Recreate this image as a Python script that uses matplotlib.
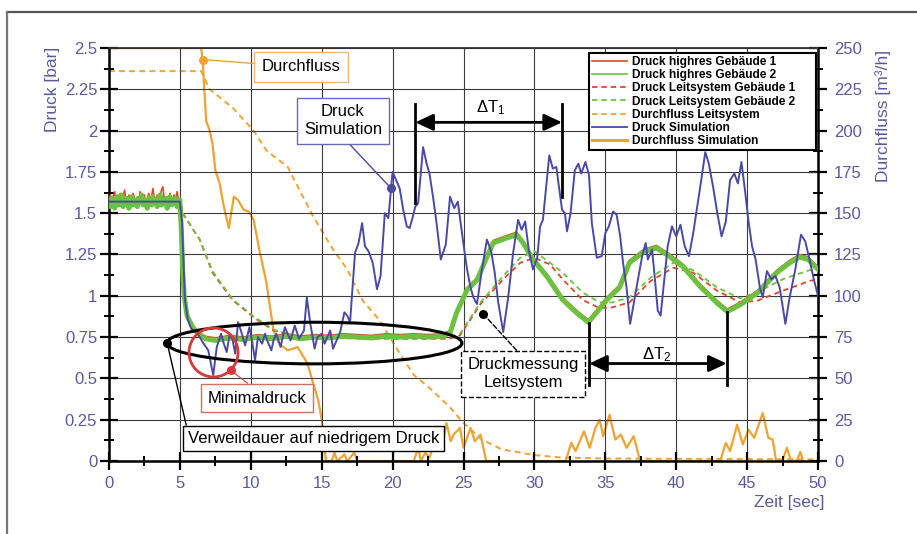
import matplotlib
matplotlib.use('Agg')
import matplotlib.pyplot as plt
import numpy as np
from matplotlib.patches import Ellipse
from matplotlib.lines import Line2D

plt.rcParams['font.family'] = ['Liberation Sans', 'DejaVu Sans']
plt.rcParams['mathtext.fontset'] = 'custom'
plt.rcParams['mathtext.rm'] = 'Liberation Sans'
plt.rcParams['mathtext.it'] = 'Liberation Sans:italic'

# ---------------- data ----------------
x_ticks = [0, 5, 10, 15, 20, 25, 30, 35, 40, 45, 50]
x_ticklabels = ['0', '5', '10', '15', '20', '25', '30', '35', '40', '45', '50']
p_ticks = [0, 0.25, 0.5, 0.75, 1, 1.25, 1.5, 1.75, 2, 2.25, 2.5]
p_ticklabels = ['0', '0.25', '0.5', '0.75', '1', '1.25', '1.5', '1.75', '2', '2.25', '2.5']
q_ticks = [0, 25, 50, 75, 100, 125, 150, 175, 200, 225, 250]
q_ticklabels = ['0', '25', '50', '75', '100', '125', '150', '175', '200', '225', '250']

# high-resolution pressure, first 5 s (0.1 s steps)
hr0_t = [round(0.1 * i, 1) for i in range(51)]
red_hr0_p = [1.58, 1.61, 1.55, 1.60, 1.63, 1.57, 1.54, 1.59, 1.62, 1.56, 1.60, 1.64, 1.57, 1.55, 1.61,
             1.58, 1.56, 1.62, 1.59, 1.54, 1.60, 1.57, 1.63, 1.56, 1.59, 1.61, 1.55, 1.58, 1.62, 1.57,
             1.60, 1.65, 1.58, 1.55, 1.61, 1.57, 1.59, 1.64, 1.66, 1.58, 1.55, 1.60, 1.57, 1.62, 1.56,
             1.59, 1.61, 1.57, 1.63, 1.58, 1.57]
green_hr0_p = [1.56, 1.54, 1.59, 1.57, 1.53, 1.58, 1.60, 1.55, 1.57, 1.61, 1.54, 1.58, 1.56, 1.59, 1.53,
               1.57, 1.60, 1.55, 1.58, 1.56, 1.54, 1.59, 1.57, 1.61, 1.55, 1.58, 1.56, 1.53, 1.59, 1.57,
               1.55, 1.60, 1.56, 1.58, 1.54, 1.57, 1.61, 1.55, 1.58, 1.56, 1.59, 1.53, 1.57, 1.60, 1.55,
               1.58, 1.56, 1.59, 1.54, 1.57, 1.58]

# high-resolution pressure after 5 s
hr_t = [5.0, 5.1, 5.2, 5.3, 5.5, 5.9, 6.3, 6.8, 7.5, 8.5, 9.5, 10.5, 11.5, 12.5, 13.5, 14.5, 15.5,
        16.5, 17.5, 18.5, 19.5, 20.5, 21.5, 22.5, 23.5, 24.05, 24.5, 25.25, 25.95, 26.65, 27.1,
        28.05, 28.75, 29.2, 29.9, 30.9, 32.0, 33.0, 33.8, 34.4, 35.1, 36.0, 36.7, 37.7, 38.6,
        39.5, 40.5, 41.7, 42.9, 43.6, 44.5, 45.7, 47.1, 48.0, 48.7, 49.3, 50.0]
green_hr_p = [1.57, 1.40, 1.15, 1.00, 0.88, 0.81, 0.77, 0.74, 0.73, 0.745, 0.735, 0.75, 0.74, 0.755,
              0.74, 0.75, 0.745, 0.755, 0.75, 0.745, 0.755, 0.75, 0.755, 0.75, 0.755, 0.775, 0.895,
              1.035, 1.095, 1.235, 1.32, 1.35, 1.37, 1.32, 1.22, 1.115, 0.975, 0.895, 0.84, 0.90,
              0.975, 1.05, 1.20, 1.265, 1.29, 1.24, 1.175, 1.055, 0.955, 0.905, 0.945, 1.015, 1.14,
              1.20, 1.235, 1.22, 1.16]
red_hr_p = [1.58, 1.41, 1.16, 1.01, 0.89, 0.82, 0.78, 0.755, 0.745, 0.76, 0.75, 0.765, 0.755, 0.77,
            0.755, 0.765, 0.76, 0.77, 0.765, 0.76, 0.77, 0.765, 0.77, 0.765, 0.77, 0.79, 0.91,
            1.05, 1.11, 1.25, 1.335, 1.365, 1.385, 1.335, 1.235, 1.13, 0.99, 0.91, 0.855, 0.915,
            0.99, 1.065, 1.215, 1.28, 1.305, 1.255, 1.19, 1.07, 0.97, 0.92, 0.96, 1.03, 1.155,
            1.215, 1.25, 1.235, 1.175]

# control-system pressure (dashed)
ls_t = [0.0, 5.0, 5.2, 6.4, 7.3, 8.7, 10.2, 11.6, 13.0, 15.0, 20.0, 24.0, 24.75, 26.2, 27.8,
        29.0, 30.0, 31.1, 32.0, 33.4, 34.6, 35.5, 36.7, 38.2, 39.8, 41.2, 42.9, 44.5, 45.7,
        47.5, 49.4, 50.0]
red_ls_p = [1.58, 1.58, 1.50, 1.34, 1.14, 0.975, 0.87, 0.79, 0.76, 0.745, 0.74, 0.74, 0.76, 0.95,
            1.10, 1.20, 1.23, 1.19, 1.10, 0.975, 0.925, 0.93, 0.96, 1.09, 1.17, 1.14, 1.03,
            0.96, 0.97, 1.03, 1.09, 1.10]
green_ls_p = [1.58, 1.58, 1.50, 1.34, 1.15, 0.98, 0.875, 0.795, 0.76, 0.75, 0.75, 0.75, 0.77,
              0.96, 1.12, 1.23, 1.27, 1.20, 1.14, 1.02, 0.96, 0.96, 0.99, 1.11, 1.20, 1.155,
              1.05, 0.985, 1.02, 1.10, 1.155, 1.16]

# simulated pressure (blue)
sim_t = [0.0, 5.0, 5.15, 5.35, 5.55, 5.8, 6.2, 6.6, 7.0, 7.35, 7.6, 7.9, 8.1, 8.3, 8.5, 8.7, 8.9,
         9.1, 9.3, 9.6, 9.9, 10.1, 10.3, 10.5, 10.8, 11.0, 11.2, 11.45, 11.6, 11.8, 12.1, 12.4,
         12.6, 12.8, 13.1, 13.4, 13.75, 13.95, 14.2, 14.5, 14.7, 15.0, 15.2, 15.4, 15.6, 15.8,
         16.1, 16.3, 16.6, 16.8, 17.0, 17.35, 17.6, 17.85, 18.05, 18.3, 18.6, 18.9, 19.15, 19.45,
         19.7, 20.0, 20.25, 20.5, 20.75, 21.0, 21.2, 21.4, 21.6, 21.8, 22.15, 22.4, 22.6, 22.85,
         23.1, 23.4, 23.75, 24.05, 24.35, 24.6, 24.85, 25.05, 25.25, 25.5, 25.7, 25.95, 26.3,
         26.65, 26.95, 27.2, 27.45, 27.8, 28.15, 28.5, 28.85, 29.1, 29.35, 29.6, 29.9, 30.2,
         30.4, 30.6, 30.9, 31.05, 31.3, 31.55, 31.7, 31.95, 32.15, 32.3, 32.55, 32.85, 33.1,
         33.3, 33.6, 33.85, 34.05, 34.4, 34.75, 35.0, 35.25, 35.55, 35.8, 36.05, 36.25, 36.5,
         36.75, 37.0, 37.2, 37.6, 37.85, 38.0, 38.3, 38.5, 38.7, 38.9, 39.1, 39.4, 39.7, 40.0,
         40.3, 40.6, 40.9, 41.2, 41.5, 41.8, 42.05, 42.3, 42.6, 42.9, 43.2, 43.5, 43.8, 44.1,
         44.35, 44.6, 44.85, 45.1, 45.35, 45.6, 45.9, 46.1, 46.4, 46.7, 47.0, 47.3, 47.7, 48.0,
         48.4, 48.8, 49.1, 49.4, 49.7, 50.0]
sim_p = [1.57, 1.57, 1.45, 0.98, 0.86, 0.80, 0.78, 0.72, 0.67, 0.52, 0.69, 0.77, 0.71, 0.66,
         0.76, 0.74, 0.65, 0.84, 0.79, 0.70, 0.81, 0.72, 0.61, 0.75, 0.71, 0.77, 0.72, 0.67, 0.73,
         0.77, 0.69, 0.81, 0.77, 0.73, 0.82, 0.74, 0.79, 0.99, 0.83, 0.68, 0.75, 0.77, 0.71, 0.75,
         0.79, 0.68, 0.74, 0.78, 0.90, 0.88, 0.84, 1.26, 1.32, 1.44, 1.30, 1.27, 1.20, 1.04, 1.12,
         1.50, 1.47, 1.75, 1.70, 1.65, 1.52, 1.42, 1.41, 1.47, 1.54, 1.56, 1.90, 1.80, 1.74, 1.60,
         1.44, 1.22, 1.31, 1.60, 1.53, 1.57, 1.41, 1.28, 1.16, 1.05, 0.99, 0.95, 1.16, 1.34, 1.27,
         1.14, 0.96, 0.78, 0.99, 1.26, 1.46, 1.40, 1.45, 1.28, 1.16, 1.23, 1.42, 1.46, 1.72, 1.85,
         1.77, 1.78, 1.68, 1.52, 1.50, 1.39, 1.50, 1.76, 1.80, 1.74, 1.81, 1.73, 1.44, 1.23, 1.24,
         1.38, 1.42, 1.51, 1.49, 1.36, 1.20, 1.05, 0.83, 0.95, 1.05, 1.24, 1.32, 1.22, 1.28, 1.10,
         0.91, 0.88, 1.05, 1.30, 1.42, 1.36, 1.43, 1.30, 1.24, 1.38, 1.55, 1.72, 1.87, 1.80, 1.66,
         1.50, 1.36, 1.45, 1.70, 1.74, 1.68, 1.81, 1.64, 1.45, 1.30, 1.22, 1.05, 0.99, 1.15, 1.10,
         1.12, 1.05, 0.83, 0.99, 1.16, 1.37, 1.33, 1.22, 1.10, 1.00]

# control-system flow (dashed orange, right axis)
flow_ls_t = [0.0, 6.5, 7.1, 8.7, 10.2, 11.1, 12.6, 14.4, 15.8, 16.8, 17.9, 19.1, 20.3, 21.5,
             22.5, 24.0, 25.0, 26.3, 27.7, 30.0, 32.0, 35.0, 50.0]
flow_ls_q = [236, 236, 225, 214, 200, 188, 178, 148, 128, 116, 97, 85, 68, 52, 45, 33, 23, 13,
             7, 3.6, 2, 1.5, 1]

# simulated flow (solid orange, right axis)
flow_sim_t = [0.0, 6.5, 6.6, 6.85, 7.1, 7.3, 7.5, 7.8, 8.1, 8.45, 8.8, 9.1, 9.5, 9.85, 10.2, 10.6,
              11.1, 11.6, 12.0, 12.6, 13.3, 14.0, 14.4, 14.75, 15.0, 15.3, 15.7, 15.9, 16.1, 16.6,
              16.8, 17.3, 17.5, 21.5, 21.8, 22.0, 22.3, 22.6, 23.0, 23.4, 23.8, 24.1, 24.3, 24.75,
              25.0, 25.5, 25.8, 26.2, 26.6, 32.2, 32.6, 32.9, 33.5, 33.9, 34.3, 34.6, 34.85, 35.3,
              35.7, 36.1, 36.5, 37.0, 37.45, 43.1, 43.5, 43.8, 44.3, 44.7, 45.1, 45.5, 46.1, 46.5,
              46.8, 47.05, 47.5, 47.8, 48.1, 48.5, 48.75, 48.95]
flow_sim_q = [250, 250, 243, 206, 200, 192, 176, 168, 154, 141, 160, 158, 152, 151, 146, 128,
              108, 79, 71, 67, 69, 59, 47, 37, 25, 0, 0, 5, 0, 4, 0, 5, 0, 0, 8, 0, 5, 2, 12, 6,
              23, 12, 16, 20, 8, 20, 12, 16, 0, 0, 11, 6, 18, 8, 20, 25, 15, 28, 13, 16, 8, 15,
              0, 0, 11, 6, 22, 10, 19, 14, 29, 14, 13, 0, 0, 8, 0, 0, 5.5, 0]

legend_labels = ['Druck highres Gebäude 1', 'Druck highres Gebäude 2',
                 'Druck Leitsystem Gebäude 1', 'Druck Leitsystem Gebäude 2',
                 'Durchfluss Leitsystem', 'Druck Simulation', 'Durchfluss Simulation']

# ---------------- style ----------------
C_RED = '#e2452a'
C_GREEN = '#6cc23e'
C_BLUE = '#4a4aa6'
C_ORANGE = '#f0a232'
C_LAB = '#5a5aa2'
DASH = (0, (3, 2.2))

fig = plt.figure(figsize=(9.17, 5.34), dpi=100)
ax = fig.add_axes([109 / 917, 1 - 461 / 534, (818 - 109) / 917, (461 - 48) / 534])
ax2 = ax.twinx()
ax.set_zorder(ax2.get_zorder() + 1)
ax.patch.set_visible(False)

# flows (right axis)
ax2.plot(flow_ls_t, flow_ls_q, color=C_ORANGE, lw=1.4, ls=DASH)
ax2.plot(flow_sim_t, flow_sim_q, color=C_ORANGE, lw=1.6)

# pressures (left axis)
ax.plot(ls_t, red_ls_p, color=C_RED, lw=1.3, ls=DASH, zorder=3)
ax.plot(ls_t, green_ls_p, color=C_GREEN, lw=1.3, ls=DASH, zorder=3)
ax.plot(hr0_t + hr_t, red_hr0_p + red_hr_p, color=C_RED, lw=1.2, zorder=4)
ax.plot(hr0_t + hr_t, green_hr0_p + green_hr_p, color=C_GREEN, lw=3.6, zorder=5,
        solid_joinstyle='round')
ax.plot(sim_t, sim_p, color=C_BLUE, lw=1.4, zorder=6)

ax.set_xlim(0, 50)
ax.set_ylim(0, 2.5)
ax2.set_ylim(0, 250)

ax.set_xticks(x_ticks, x_ticklabels)
ax.set_xticks(np.arange(2.5, 50, 5), minor=True)
ax.set_yticks(p_ticks, p_ticklabels)
ax.set_yticks(np.arange(0.125, 2.5, 0.25), minor=True)
ax2.set_yticks(q_ticks, q_ticklabels)
ax2.set_yticks(np.arange(12.5, 250, 25), minor=True)

for a in (ax, ax2):
    a.tick_params(which='major', direction='inout', length=13, width=1.6, color='black',
                  labelcolor=C_LAB, labelsize=12)
    a.tick_params(which='minor', direction='inout', length=7, width=1.4, color='black')
ax.tick_params(axis='y', pad=2)
ax.tick_params(axis='x', pad=4)
ax2.tick_params(axis='y', pad=5)

ax.grid(True, which='major', color='#3c3c3c', lw=0.8, zorder=0)
ax.set_axisbelow(True)
for s in ('left', 'bottom', 'right'):
    ax.spines[s].set_color('black')
    ax.spines[s].set_linewidth(1.8)
ax.spines['top'].set_color('#333333')
ax.spines['top'].set_linewidth(1.3)
for s in ax2.spines.values():
    s.set_visible(False)

fig.text(52 / 917, 1 - 47 / 534, 'Druck [bar]', rotation=90, ha='center', va='top',
         color=C_LAB, fontsize=12.5)
fig.text(883 / 917, 1 - 50 / 534, 'Durchfluss [m³/h]', rotation=90, ha='center', va='top',
         color=C_LAB, fontsize=12.5)
fig.text(825 / 917, 1 - 502 / 534, 'Zeit [sec]', ha='right', va='center',
         color=C_LAB, fontsize=12.5)

# legend
handles = [Line2D([], [], color=C_RED, lw=1.2),
           Line2D([], [], color=C_GREEN, lw=1.2),
           Line2D([], [], color=C_RED, lw=1.3, ls=DASH),
           Line2D([], [], color=C_GREEN, lw=1.3, ls=DASH),
           Line2D([], [], color=C_ORANGE, lw=1.3, ls=DASH),
           Line2D([], [], color=C_BLUE, lw=1.3),
           Line2D([], [], color=C_ORANGE, lw=2.2)]
leg = ax.legend(handles, legend_labels, loc='upper left',
                bbox_to_anchor=((589 - 109) / 709, 0.70, (816 - 589) / 709, (461 - 53) / 413 - 0.70),
                mode='expand', borderaxespad=0, fancybox=False, framealpha=1,
                edgecolor='black', handlelength=2.9, handletextpad=0.45, labelspacing=0.1,
                borderpad=0.25, prop={'family': 'Liberation Sans', 'weight': 'bold', 'size': 8.6})
leg.get_frame().set_linewidth(1.5)
leg.set_zorder(20)

# ---------------- annotations ----------------
FS = 12
# Durchfluss
ax2.plot([6.6], [243], 'o', color=C_ORANGE, ms=5.5, zorder=10)
ax.annotate('Durchfluss', xy=(6.6, 243), xycoords=ax2.transData, xytext=(13.55, 2.385),
            textcoords='data', ha='center', va='center', fontsize=FS, zorder=12,
            bbox=dict(boxstyle='square,pad=0.45', fc='white', ec='#f0b878', lw=1),
            arrowprops=dict(arrowstyle='-', color=C_ORANGE, lw=1, shrinkA=0, shrinkB=0))
# Druck Simulation
ax.plot([19.9], [1.65], 'o', color=C_BLUE, ms=5.5, zorder=10)
ax.annotate('Druck\nSimulation', xy=(19.9, 1.65), xytext=(16.5, 2.06), ha='center',
            va='center', fontsize=FS, zorder=12, linespacing=1.25,
            bbox=dict(boxstyle='square,pad=0.4', fc='white', ec='#6a6ab8', lw=1),
            arrowprops=dict(arrowstyle='-', color=C_BLUE, lw=1, shrinkA=0, shrinkB=0,
                            relpos=(0.5, 0)))
# delta T1
ax.plot([21.6, 21.6], [1.56, 2.16], color='black', lw=2, zorder=11)
ax.plot([31.95, 31.95], [1.60, 2.16], color='black', lw=2, zorder=11)
ax.annotate('', xy=(31.95, 2.05), xytext=(21.6, 2.05), zorder=11,
            arrowprops=dict(arrowstyle='<|-|>,head_length=0.9,head_width=0.42', color='black',
                            lw=2, shrinkA=0, shrinkB=0, mutation_scale=12))
ax.text(26.9, 2.14, 'ΔT$_1$', ha='center', va='center', fontsize=FS, zorder=12)
# delta T2
ax.plot([33.86, 33.86], [0.46, 0.835], color='black', lw=2, zorder=11)
ax.plot([43.56, 43.56], [0.46, 0.90], color='black', lw=2, zorder=11)
ax.annotate('', xy=(43.56, 0.59), xytext=(33.86, 0.59), zorder=11,
            arrowprops=dict(arrowstyle='<|-|>,head_length=0.9,head_width=0.42', color='black',
                            lw=2, shrinkA=0, shrinkB=0, mutation_scale=12))
ax.text(38.65, 0.645, 'ΔT$_2$', ha='center', va='center', fontsize=FS, zorder=12)
# ellipse: low pressure period
ax.add_patch(Ellipse((14.49, 0.714), 20.8, 0.252, fill=False, ec='black', lw=2.2, zorder=9))
ax.plot([4.1], [0.714], 'o', color='black', ms=5.5, zorder=10)
ax.annotate('Verweildauer auf niedrigem Druck', xy=(4.1, 0.714), xytext=(14.4, 0.139),
            ha='center', va='center', fontsize=FS, zorder=12,
            bbox=dict(boxstyle='square,pad=0.3', fc='white', ec='black', lw=1),
            arrowprops=dict(arrowstyle='-', color='black', lw=1, shrinkA=0, shrinkB=0,
                            relpos=(0, 1)))
# minimum pressure circle
ax.add_patch(Ellipse((7.37, 0.657), 3.46, 0.297, fill=False, ec='#d8383a', lw=2, zorder=9))
ax.plot([8.57], [0.55], 'o', color='#d8383a', ms=5.5, zorder=10)
ax.annotate('Minimaldruck', xy=(8.57, 0.55), xytext=(10.44, 0.381), ha='center', va='center',
            fontsize=FS, zorder=12,
            bbox=dict(boxstyle='square,pad=0.4', fc='white', ec='#d07060', lw=1),
            arrowprops=dict(arrowstyle='-', color='#d8383a', lw=0.8, shrinkA=0, shrinkB=0,
                            relpos=(0.5, 1)))
# control system measurement
ax.plot([26.4], [0.89], 'o', color='black', ms=5.5, zorder=10)
ax.annotate('Druckmessung\nLeitsystem', xy=(26.4, 0.89), xytext=(29.2, 0.527), ha='center',
            va='center', fontsize=FS, zorder=12, linespacing=1.25,
            bbox=dict(boxstyle='square,pad=0.4', fc='white', ec='black', lw=1, ls='--'),
            arrowprops=dict(arrowstyle='-', color='black', lw=1, ls='--', shrinkA=0, shrinkB=0,
                            relpos=(0.5, 1)))

# outer frame (top and left)
fig.add_artist(Line2D([7 / 917, 1.0], [1 - 12 / 534, 1 - 12 / 534], transform=fig.transFigure,
                      color='#555555', lw=1.6))
fig.add_artist(Line2D([7 / 917, 7 / 917], [0, 1 - 12 / 534], transform=fig.transFigure,
                      color='#777777', lw=1.6))

fig.savefig('out.png', dpi=100)
